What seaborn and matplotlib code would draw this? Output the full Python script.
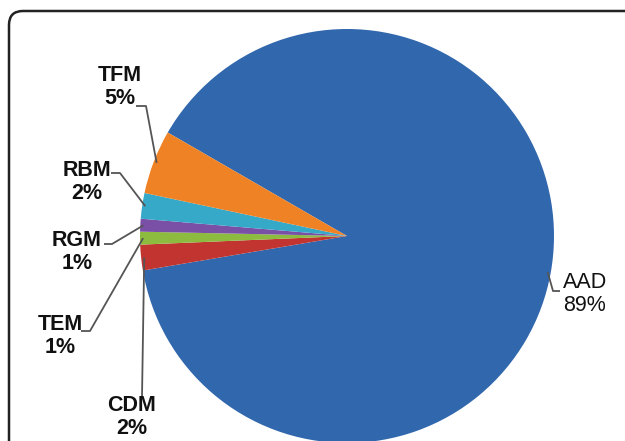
import numpy as np
import matplotlib.pyplot as plt
import seaborn as sns
from matplotlib.patches import FancyBboxPatch

# data
labels = ['AAD', 'CDM', 'TEM', 'RGM', 'RBM', 'TFM']
shares = [89, 2, 1, 1, 2, 5]
colors = ['#3167ad', '#c2342f', '#8cbb3f', '#7a4fa6', '#36a9c9', '#ee8225']

sns.set_theme(style='white')
plt.rcParams['font.family'] = ['Liberation Sans', 'DejaVu Sans']

W, H = 625, 441
fig = plt.figure(figsize=(6.25, 4.41), dpi=100)
ax = fig.add_axes([0, 0, 1, 1])

# pie in pixel units (y up)
cx, cy, R = 347, H - 236, 207
wedges, _ = ax.pie(shares, colors=colors, startangle=150, counterclock=False,
                   center=(cx, cy), radius=R, wedgeprops=dict(linewidth=0))
ax.set_xlim(0, W)
ax.set_ylim(0, H)
ax.axis('off')

# label placement (pixels from top-left): text centre, elbow points of leader
layout = {
    'TFM': ((120, 87), [(136, 106), (146, 106)]),
    'RBM': ((87, 182), [(111, 173), (120, 173)]),
    'RGM': ((77, 252), [(104, 244), (112, 244)]),
    'TEM': ((60, 336), [(81, 331), (90, 331)]),
    'CDM': ((132, 417), [(142, 397)]),
    'AAD': ((585, 294), [(560, 291), (553, 291)]),
}

for w, lab, val in zip(wedges, labels, shares):
    (tx, ty), elbow = layout[lab]
    mid = np.deg2rad((w.theta1 + w.theta2) / 2)
    px = cx + R * 0.985 * np.cos(mid)
    py = cy + R * 0.985 * np.sin(mid)
    xs = [e[0] for e in elbow] + [px]
    ys = [H - e[1] for e in elbow] + [py]
    ax.plot(xs, ys, color='#555555', lw=1.3, solid_capstyle='butt', zorder=3)
    ax.text(tx, H - ty, f'{lab}\n{val}%', ha='center', va='center',
            fontsize=15.5, fontweight='normal' if lab == 'AAD' else 'bold',
            color='#111111', linespacing=1.15, zorder=4)

# frame with rounded top-left corner, running off the right and bottom
frame = FancyBboxPatch((9, -60), 700, H - 11 + 60,
                       boxstyle='round,pad=0,rounding_size=14',
                       fill=False, edgecolor='#222222', lw=1.8, zorder=5)
ax.add_patch(frame)

fig.savefig('out.png', dpi=100)
